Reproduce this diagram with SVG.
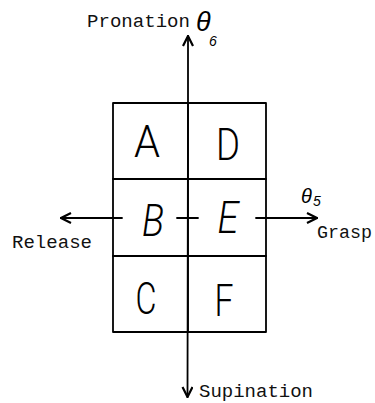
<svg xmlns="http://www.w3.org/2000/svg" width="375" height="403" viewBox="0 0 375 403">
<defs>
<style>
.ln{stroke:#000;stroke-width:1.8;fill:none;stroke-linecap:round;stroke-linejoin:round}
.mono{font-family:"Liberation Mono","Courier New",monospace;font-size:19px;fill:#111}
.hand{font-family:Roboto,"Open Sans",Lato,sans-serif;font-size:44px;fill:#000;font-weight:300}
.th{font-family:"Liberation Sans",Arial,sans-serif;font-style:italic;fill:#000}
</style>
<marker id="ah" viewBox="0 0 12 12" refX="11" refY="6" markerWidth="12" markerHeight="12" markerUnits="userSpaceOnUse" orient="auto">
<path d="M1,1 L11,6 L1,11" fill="none" stroke="#000" stroke-width="2.2" stroke-linejoin="miter"/>
</marker>
</defs>
<rect width="375" height="403" fill="#fff"/>
<g id="grid">
<rect x="113" y="103" width="153" height="229" class="ln"/>
<line x1="113" y1="179" x2="266" y2="179" class="ln"/>
<line x1="113" y1="256" x2="266" y2="256" class="ln"/>
</g>
<g id="connectors">
<line x1="188" y1="332" x2="188" y2="36" class="ln" marker-end="url(#ah)"/>
<line x1="188" y1="103" x2="187.5" y2="397" class="ln" marker-end="url(#ah)"/>
<line x1="122" y1="218" x2="61" y2="218" class="ln" marker-end="url(#ah)"/>
<line x1="177" y1="218" x2="198" y2="218" class="ln"/>
<line x1="256" y1="218" x2="317" y2="218" class="ln" marker-end="url(#ah)"/>
</g>
<g id="A"><text x="147" y="157" text-anchor="middle" class="hand" textLength="26" lengthAdjust="spacingAndGlyphs">A</text></g>
<g id="D"><text x="228" y="160" text-anchor="middle" class="hand" textLength="24" lengthAdjust="spacingAndGlyphs">D</text></g>
<g id="B"><text x="153" y="236" text-anchor="middle" class="hand" textLength="22" lengthAdjust="spacingAndGlyphs" font-style="italic">B</text></g>
<g id="E"><text x="228" y="233" text-anchor="middle" class="hand" textLength="21" lengthAdjust="spacingAndGlyphs" font-style="italic">E</text></g>
<g id="C"><text x="146" y="314" text-anchor="middle" class="hand" font-size="30" textLength="21" lengthAdjust="spacingAndGlyphs">C</text></g>
<g id="F"><text x="224" y="316" text-anchor="middle" class="hand" font-size="39" textLength="19" lengthAdjust="spacingAndGlyphs">F</text></g>
<g id="labels">
<text x="87" y="27" class="mono" textLength="103" lengthAdjust="spacingAndGlyphs">Pronation</text>
<text x="12" y="248" class="mono" textLength="80" lengthAdjust="spacingAndGlyphs">Release</text>
<text x="317" y="238" class="mono" textLength="55" lengthAdjust="spacingAndGlyphs">Grasp</text>
<text x="199" y="397" class="mono" textLength="114" lengthAdjust="spacingAndGlyphs">Supination</text>
<text x="196" y="31" class="th" font-size="27">θ</text>
<text x="209" y="46" class="th" font-size="14">6</text>
<text x="301" y="203" class="th" font-size="20">θ</text>
<text x="313" y="206" class="th" font-size="14">5</text>
</g>
</svg>
